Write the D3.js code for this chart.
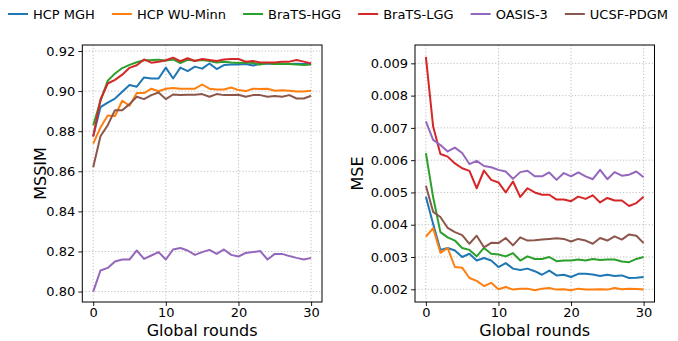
<!DOCTYPE html>
<html>
<head>
<meta charset="utf-8">
<script src="https://cdn.jsdelivr.net/npm/d3@7"></script>
<style>
  body { margin: 0; background: #fff; }
  svg { font-family: "DejaVu Sans", sans-serif; }
</style>
</head>
<body>
<svg id="chart" width="678" height="341"></svg>
<script>
// rounds 0..30
const rounds = d3.range(0, 31);
const seriesNames = ["HCP MGH", "HCP WU-Minn", "BraTS-HGG", "BraTS-LGG", "OASIS-3", "UCSF-PDGM"];
const seriesColors = ["#1f77b4", "#ff7f0e", "#2ca02c", "#d62728", "#9467bd", "#8c564b"];

// MSSIM per round
const mssimMGH = [0.8775, 0.8920, 0.8943, 0.8963, 0.8997, 0.9030, 0.9022, 0.9068, 0.9063, 0.9063, 0.9117,
  0.9063, 0.9117, 0.9100, 0.9122, 0.9112, 0.9138, 0.9110, 0.9130, 0.9133, 0.9133,
  0.9135, 0.9128, 0.9135, 0.9138, 0.9135, 0.9137, 0.9135, 0.9137, 0.9135, 0.9137];
const mssimWU = [0.8738, 0.8818, 0.8878, 0.8876, 0.8952, 0.8927, 0.8990, 0.8990, 0.9012, 0.8999, 0.9012,
  0.9015, 0.9012, 0.9012, 0.9012, 0.9033, 0.9012, 0.9008, 0.9008, 0.9018, 0.9005,
  0.9000, 0.9012, 0.9010, 0.9012, 0.9002, 0.9004, 0.9002, 0.8998, 0.8998, 0.9002];
const mssimHGG = [0.8830, 0.8950, 0.9052, 0.9088, 0.9115, 0.9131, 0.9144, 0.9154, 0.9155, 0.9157, 0.9152,
  0.9158, 0.9140, 0.9156, 0.9151, 0.9155, 0.9150, 0.9143, 0.9147, 0.9143, 0.9140,
  0.9143, 0.9140, 0.9133, 0.9140, 0.9135, 0.9135, 0.9135, 0.9133, 0.9130, 0.9133];
const mssimLGG = [0.8773, 0.8958, 0.9038, 0.9056, 0.9082, 0.9116, 0.9129, 0.9158, 0.9142, 0.9146, 0.9154,
  0.9167, 0.9149, 0.9164, 0.9150, 0.9160, 0.9155, 0.9150, 0.9158, 0.9160, 0.9160,
  0.9147, 0.9150, 0.9143, 0.9143, 0.9143, 0.9147, 0.9147, 0.9155, 0.9147, 0.9138];
const mssimOASIS = [0.8000, 0.8105, 0.8118, 0.8150, 0.8160, 0.8160, 0.8205, 0.8163, 0.8180, 0.8197, 0.8160,
  0.8210, 0.8217, 0.8205, 0.8183, 0.8197, 0.8208, 0.8188, 0.8210, 0.8183, 0.8175,
  0.8193, 0.8197, 0.8202, 0.8160, 0.8188, 0.8188, 0.8177, 0.8168, 0.8160, 0.8168];
const mssimPDGM = [0.8620, 0.8775, 0.8830, 0.8905, 0.8905, 0.8935, 0.8972, 0.8960, 0.8980, 0.8993, 0.8960,
  0.8983, 0.8980, 0.8982, 0.8982, 0.8985, 0.8972, 0.8985, 0.8980, 0.8980, 0.8982,
  0.8972, 0.8980, 0.8980, 0.8972, 0.8975, 0.8972, 0.8980, 0.8963, 0.8963, 0.8977];

// MSE per round
const mseMGH = [0.00487, 0.00402, 0.00322, 0.00328, 0.00320, 0.00300, 0.00310, 0.00289, 0.00297, 0.00289, 0.00269,
  0.00281, 0.00264, 0.00260, 0.00264, 0.00256, 0.00245, 0.00258, 0.00243, 0.00245, 0.00238,
  0.00248, 0.00248, 0.00246, 0.00241, 0.00245, 0.00241, 0.00243, 0.00235, 0.00236, 0.00238];
const mseWU = [0.00363, 0.00389, 0.00313, 0.00328, 0.00269, 0.00267, 0.00235, 0.00226, 0.00210, 0.00220, 0.00200,
  0.00207, 0.00199, 0.00202, 0.00202, 0.00197, 0.00202, 0.00204, 0.00199, 0.00200, 0.00197,
  0.00202, 0.00199, 0.00199, 0.00200, 0.00199, 0.00204, 0.00200, 0.00202, 0.00201, 0.00199];
const mseHGG = [0.00622, 0.00485, 0.00377, 0.00361, 0.00351, 0.00328, 0.00322, 0.00302, 0.00328, 0.00310, 0.00308,
  0.00302, 0.00312, 0.00289, 0.00302, 0.00294, 0.00294, 0.00300, 0.00287, 0.00289, 0.00289,
  0.00292, 0.00289, 0.00294, 0.00291, 0.00292, 0.00292, 0.00286, 0.00284, 0.00294, 0.00300];
const mseLGG = [0.00920, 0.00704, 0.00619, 0.00611, 0.00590, 0.00575, 0.00567, 0.00513, 0.00568, 0.00539, 0.00531,
  0.00500, 0.00534, 0.00486, 0.00513, 0.00500, 0.00493, 0.00493, 0.00478, 0.00478, 0.00473,
  0.00487, 0.00480, 0.00491, 0.00469, 0.00483, 0.00475, 0.00475, 0.00458, 0.00467, 0.00487];
const mseOASIS = [0.00720, 0.00663, 0.00647, 0.00627, 0.00639, 0.00622, 0.00588, 0.00598, 0.00582, 0.00578, 0.00570,
  0.00565, 0.00542, 0.00563, 0.00567, 0.00550, 0.00550, 0.00562, 0.00539, 0.00560, 0.00550,
  0.00562, 0.00550, 0.00541, 0.00570, 0.00541, 0.00563, 0.00552, 0.00555, 0.00565, 0.00547];
const msePDGM = [0.00521, 0.00440, 0.00424, 0.00390, 0.00377, 0.00368, 0.00341, 0.00366, 0.00330, 0.00344, 0.00343,
  0.00359, 0.00336, 0.00361, 0.00351, 0.00352, 0.00354, 0.00356, 0.00358, 0.00356, 0.00348,
  0.00356, 0.00351, 0.00341, 0.00359, 0.00351, 0.00364, 0.00354, 0.00370, 0.00366, 0.00343];

const mssimTicks = [0.80, 0.82, 0.84, 0.86, 0.88, 0.90, 0.92];
const mseTicks = [0.002, 0.003, 0.004, 0.005, 0.006, 0.007, 0.008, 0.009];
const roundTicks = [0, 10, 20, 30];

const svg = d3.select("#chart");

function drawPanel(opts) {
  const x = d3.scaleLinear().domain([-1.5, 31.5]).range([opts.left, opts.right]);
  const y = d3.scaleLinear().domain(opts.yDomain).range([302, 45]);
  const g = svg.append("g");

  // grid
  g.selectAll("line.gx").data(roundTicks).enter().append("line")
    .attr("x1", d => x(d)).attr("x2", d => x(d))
    .attr("y1", 45).attr("y2", 302)
    .attr("stroke", "#b0b0b0").attr("stroke-width", 0.8).attr("stroke-dasharray", "1.2,2");
  g.selectAll("line.gy").data(opts.yTicks).enter().append("line")
    .attr("x1", opts.left).attr("x2", opts.right)
    .attr("y1", d => y(d)).attr("y2", d => y(d))
    .attr("stroke", "#b0b0b0").attr("stroke-width", 0.8).attr("stroke-dasharray", "1.2,2");

  // lines
  const line = d3.line().x((d, i) => x(rounds[i])).y(d => y(d));
  opts.series.forEach((s, k) => {
    g.append("path").datum(s)
      .attr("fill", "none")
      .attr("stroke", seriesColors[k])
      .attr("stroke-width", 2)
      .attr("stroke-linejoin", "round")
      .attr("d", line);
  });

  // axes
  const xAxis = g.append("g").attr("transform", "translate(0,302)")
    .call(d3.axisBottom(x).tickValues(roundTicks).tickSize(4).tickPadding(2));
  const yAxis = g.append("g").attr("transform", `translate(${opts.left},0)`)
    .call(d3.axisLeft(y).tickValues(opts.yTicks).tickFormat(d3.format(opts.fmt)).tickSize(4).tickPadding(3));
  [xAxis, yAxis].forEach(a => {
    a.select(".domain").remove();
    a.selectAll("text").attr("font-size", 13).attr("fill", "#000")
      .attr("font-family", "DejaVu Sans, sans-serif");
    a.selectAll("line").attr("stroke", "#000").attr("stroke-width", 0.9);
  });

  // frame
  g.append("rect")
    .attr("x", opts.left).attr("y", 45)
    .attr("width", opts.right - opts.left).attr("height", 257)
    .attr("fill", "none").attr("stroke", "#000").attr("stroke-width", 1);

  // labels
  g.append("text")
    .attr("x", (opts.left + opts.right) / 2).attr("y", 335.5)
    .attr("text-anchor", "middle").attr("font-size", 16)
    .text("Global rounds");
  g.append("text")
    .attr("transform", `translate(${opts.yLabelX},173.5) rotate(-90)`)
    .attr("text-anchor", "middle").attr("font-size", 16)
    .text(opts.yLabel);
}

drawPanel({
  left: 82.3, right: 322, yDomain: [0.7948, 0.923], yTicks: mssimTicks, fmt: ".2f",
  yLabel: "MSSIM", yLabelX: 46,
  series: [mssimMGH, mssimWU, mssimHGG, mssimLGG, mssimOASIS, mssimPDGM]
});
drawPanel({
  left: 415, right: 654.5, yDomain: [0.001606, 0.009568], yTicks: mseTicks, fmt: ".3f",
  yLabel: "MSE", yLabelX: 363,
  series: [mseMGH, mseWU, mseHGG, mseLGG, mseOASIS, msePDGM]
});

// legend across the top
const legend = svg.append("g");
let lx = 8;
seriesNames.forEach((name, k) => {
  const item = legend.append("g");
  item.append("line")
    .attr("x1", lx).attr("x2", lx + 20).attr("y1", 14).attr("y2", 14)
    .attr("stroke", seriesColors[k]).attr("stroke-width", 2);
  const t = item.append("text")
    .attr("x", lx + 25).attr("y", 18.7)
    .attr("font-size", 13).text(name);
  lx += 25 + t.node().getComputedTextLength() + 17;
});
</script>
</body>
</html>
